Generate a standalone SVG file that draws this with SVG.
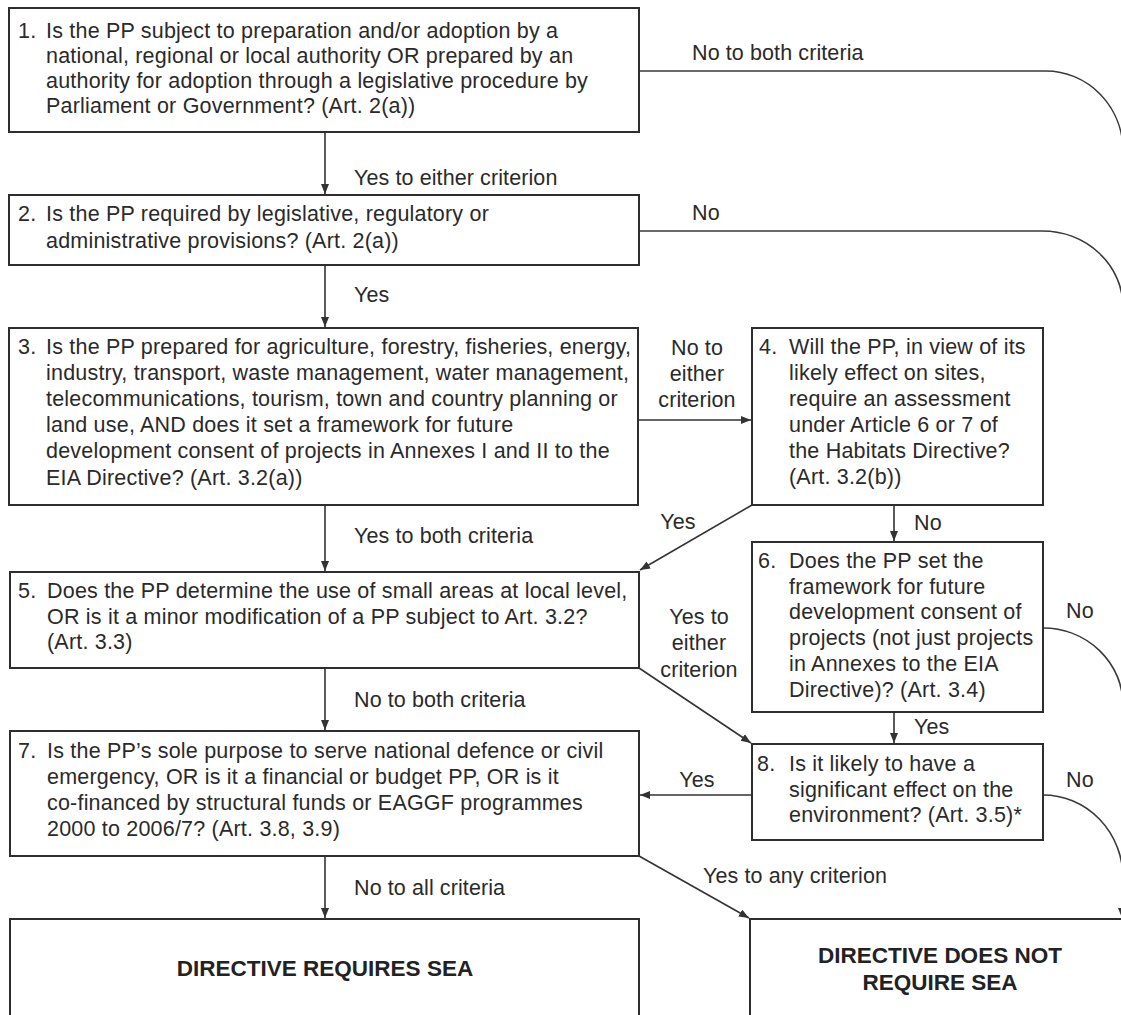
<svg xmlns="http://www.w3.org/2000/svg" width="1121" height="1015" viewBox="0 0 1121 1015">
<style>
  .box{fill:#ffffff;stroke:#2e2e2e;stroke-width:2}
  .t{font-family:"Liberation Sans",Arial,sans-serif;font-size:21.5px;letter-spacing:0.2px;fill:#2a2a2a}
  .lbl{font-family:"Liberation Sans",Arial,sans-serif;font-size:21.5px;letter-spacing:0.1px;fill:#2a2a2a}
  .c{text-anchor:middle}
  .b{font-family:"Liberation Sans",Arial,sans-serif;font-size:22.5px;font-weight:bold;fill:#222;text-anchor:middle}
  .ln{fill:none;stroke:#3a3a3a;stroke-width:1.6}
  .ar{fill:none;stroke:#333;stroke-width:1.6;marker-end:url(#ah)}
</style>
<defs>
  <marker id="ah" markerUnits="userSpaceOnUse" markerWidth="11" markerHeight="9" refX="10" refY="4" orient="auto">
    <path d="M0,0 L10,4 L0,8 z" fill="#333"/>
  </marker>
</defs>
<rect width="1121" height="1015" fill="#ffffff"/>

<g id="connectors">
  <path class="ar" d="M325,132 V194"/>
  <path class="ar" d="M325,265 V327"/>
  <path class="ar" d="M638,420 H751"/>
  <path class="ar" d="M325,505 V571"/>
  <path class="ar" d="M752,505 L640,570"/>
  <path class="ar" d="M894,505 V541"/>
  <path class="ar" d="M325,668 V730"/>
  <path class="ar" d="M639,668 L751,743"/>
  <path class="ar" d="M894,712 V743"/>
  <path class="ar" d="M752,795 H640"/>
  <path class="ar" d="M639,856 L749,918"/>
  <path class="ar" d="M325,856 V918"/>
  <path class="ln" d="M639,71 H1046 A77,80 0 0 1 1123,151 V918"/>
  <path class="ln" d="M639,231 H1042 A81,76 0 0 1 1123,307"/>
  <path class="ln" d="M1043,628 A80,77 0 0 1 1123,705"/>
  <path class="ln" d="M1043,795 A80,83 0 0 1 1123,878"/>
  <path class="ar" d="M1122,870 V918"/>
  <text class="lbl" x="692" y="60">No to both criteria</text>
  <text class="lbl" x="354" y="185">Yes to either criterion</text>
  <text class="lbl" x="692" y="220">No</text>
  <text class="lbl" x="354" y="302">Yes</text>
  <text class="lbl c" x="697" y="355">No to</text>
  <text class="lbl c" x="697" y="381">either</text>
  <text class="lbl c" x="697" y="407">criterion</text>
  <text class="lbl" x="354" y="543">Yes to both criteria</text>
  <text class="lbl c" x="678" y="529">Yes</text>
  <text class="lbl" x="914" y="530">No</text>
  <text class="lbl c" x="699" y="624">Yes to</text>
  <text class="lbl c" x="699" y="650">either</text>
  <text class="lbl c" x="699" y="677">criterion</text>
  <text class="lbl" x="1066" y="618">No</text>
  <text class="lbl" x="914" y="734">Yes</text>
  <text class="lbl" x="354" y="707">No to both criteria</text>
  <text class="lbl c" x="697" y="787">Yes</text>
  <text class="lbl" x="1066" y="787">No</text>
  <text class="lbl" x="703" y="883">Yes to any criterion</text>
  <text class="lbl" x="354" y="895">No to all criteria</text>
</g>

<g id="node1">
  <rect class="box" x="9" y="8" width="630" height="124"/>
  <text class="t" x="18" y="38">1.</text>
  <text class="t" x="46" y="38">Is the PP subject to preparation and/or adoption by a</text>
  <text class="t" x="46" y="63">national, regional or local authority OR prepared by an</text>
  <text class="t" x="46" y="88">authority for adoption through a legislative procedure by</text>
  <text class="t" x="46" y="113">Parliament or Government? (Art. 2(a))</text>
</g>

<g id="node2">
  <rect class="box" x="9" y="195" width="630" height="70"/>
  <text class="t" x="18" y="221">2.</text>
  <text class="t" x="46" y="221">Is the PP required by legislative, regulatory or</text>
  <text class="t" x="46" y="248">administrative provisions? (Art. 2(a))</text>
</g>

<g id="node3">
  <rect class="box" x="9" y="328" width="629" height="177"/>
  <text class="t" x="18" y="354">3.</text>
  <text class="t" x="46" y="354">Is the PP prepared for agriculture, forestry, fisheries, energy,</text>
  <text class="t" x="46" y="380">industry, transport, waste management, water management,</text>
  <text class="t" x="46" y="406">telecommunications, tourism, town and country planning or</text>
  <text class="t" x="46" y="432">land use, AND does it set a framework for future</text>
  <text class="t" x="46" y="458">development consent of projects in Annexes I and II to the</text>
  <text class="t" x="46" y="485">EIA Directive? (Art. 3.2(a))</text>
</g>

<g id="node4">
  <rect class="box" x="752" y="328" width="291" height="177"/>
  <text class="t" x="759" y="354">4.</text>
  <text class="t" x="789" y="354">Will the PP, in view of its</text>
  <text class="t" x="789" y="380">likely effect on sites,</text>
  <text class="t" x="789" y="406">require an assessment</text>
  <text class="t" x="789" y="432">under Article 6 or 7 of</text>
  <text class="t" x="789" y="458">the Habitats Directive?</text>
  <text class="t" x="789" y="484">(Art. 3.2(b))</text>
</g>

<g id="node5">
  <rect class="box" x="10" y="572" width="629" height="96"/>
  <text class="t" x="18" y="598">5.</text>
  <text class="t" x="47" y="598">Does the PP determine the use of small areas at local level,</text>
  <text class="t" x="47" y="624">OR is it a minor modification of a PP subject to Art. 3.2?</text>
  <text class="t" x="47" y="649">(Art. 3.3)</text>
</g>

<g id="node6">
  <rect class="box" x="752" y="542" width="291" height="170"/>
  <text class="t" x="758" y="568">6.</text>
  <text class="t" x="789" y="568">Does the PP set the</text>
  <text class="t" x="789" y="594">framework for future</text>
  <text class="t" x="789" y="619">development consent of</text>
  <text class="t" x="789" y="645">projects (not just projects</text>
  <text class="t" x="789" y="671">in Annexes to the EIA</text>
  <text class="t" x="789" y="697">Directive)? (Art. 3.4)</text>
</g>

<g id="node7">
  <rect class="box" x="10" y="731" width="629" height="125"/>
  <text class="t" x="18" y="758">7.</text>
  <text class="t" x="47" y="758">Is the PP’s sole purpose to serve national defence or civil</text>
  <text class="t" x="47" y="784">emergency, OR is it a financial or budget PP, OR is it</text>
  <text class="t" x="47" y="810">co-financed by structural funds or EAGGF programmes</text>
  <text class="t" x="47" y="836">2000 to 2006/7? (Art. 3.8, 3.9)</text>
</g>

<g id="node8">
  <rect class="box" x="752" y="744" width="291" height="96"/>
  <text class="t" x="757" y="771">8.</text>
  <text class="t" x="789" y="771">Is it likely to have a</text>
  <text class="t" x="789" y="797">significant effect on the</text>
  <text class="t" x="789" y="822">environment? (Art. 3.5)*</text>
</g>

<g id="node-requires">
  <rect class="box" x="10" y="919" width="629" height="110"/>
  <text class="b" x="325" y="976">DIRECTIVE REQUIRES SEA</text>
</g>

<g id="node-not-requires">
  <rect class="box" x="750" y="919" width="390" height="110"/>
  <text class="b" x="940" y="963">DIRECTIVE DOES NOT</text>
  <text class="b" x="940" y="990">REQUIRE SEA</text>
</g>
</svg>
